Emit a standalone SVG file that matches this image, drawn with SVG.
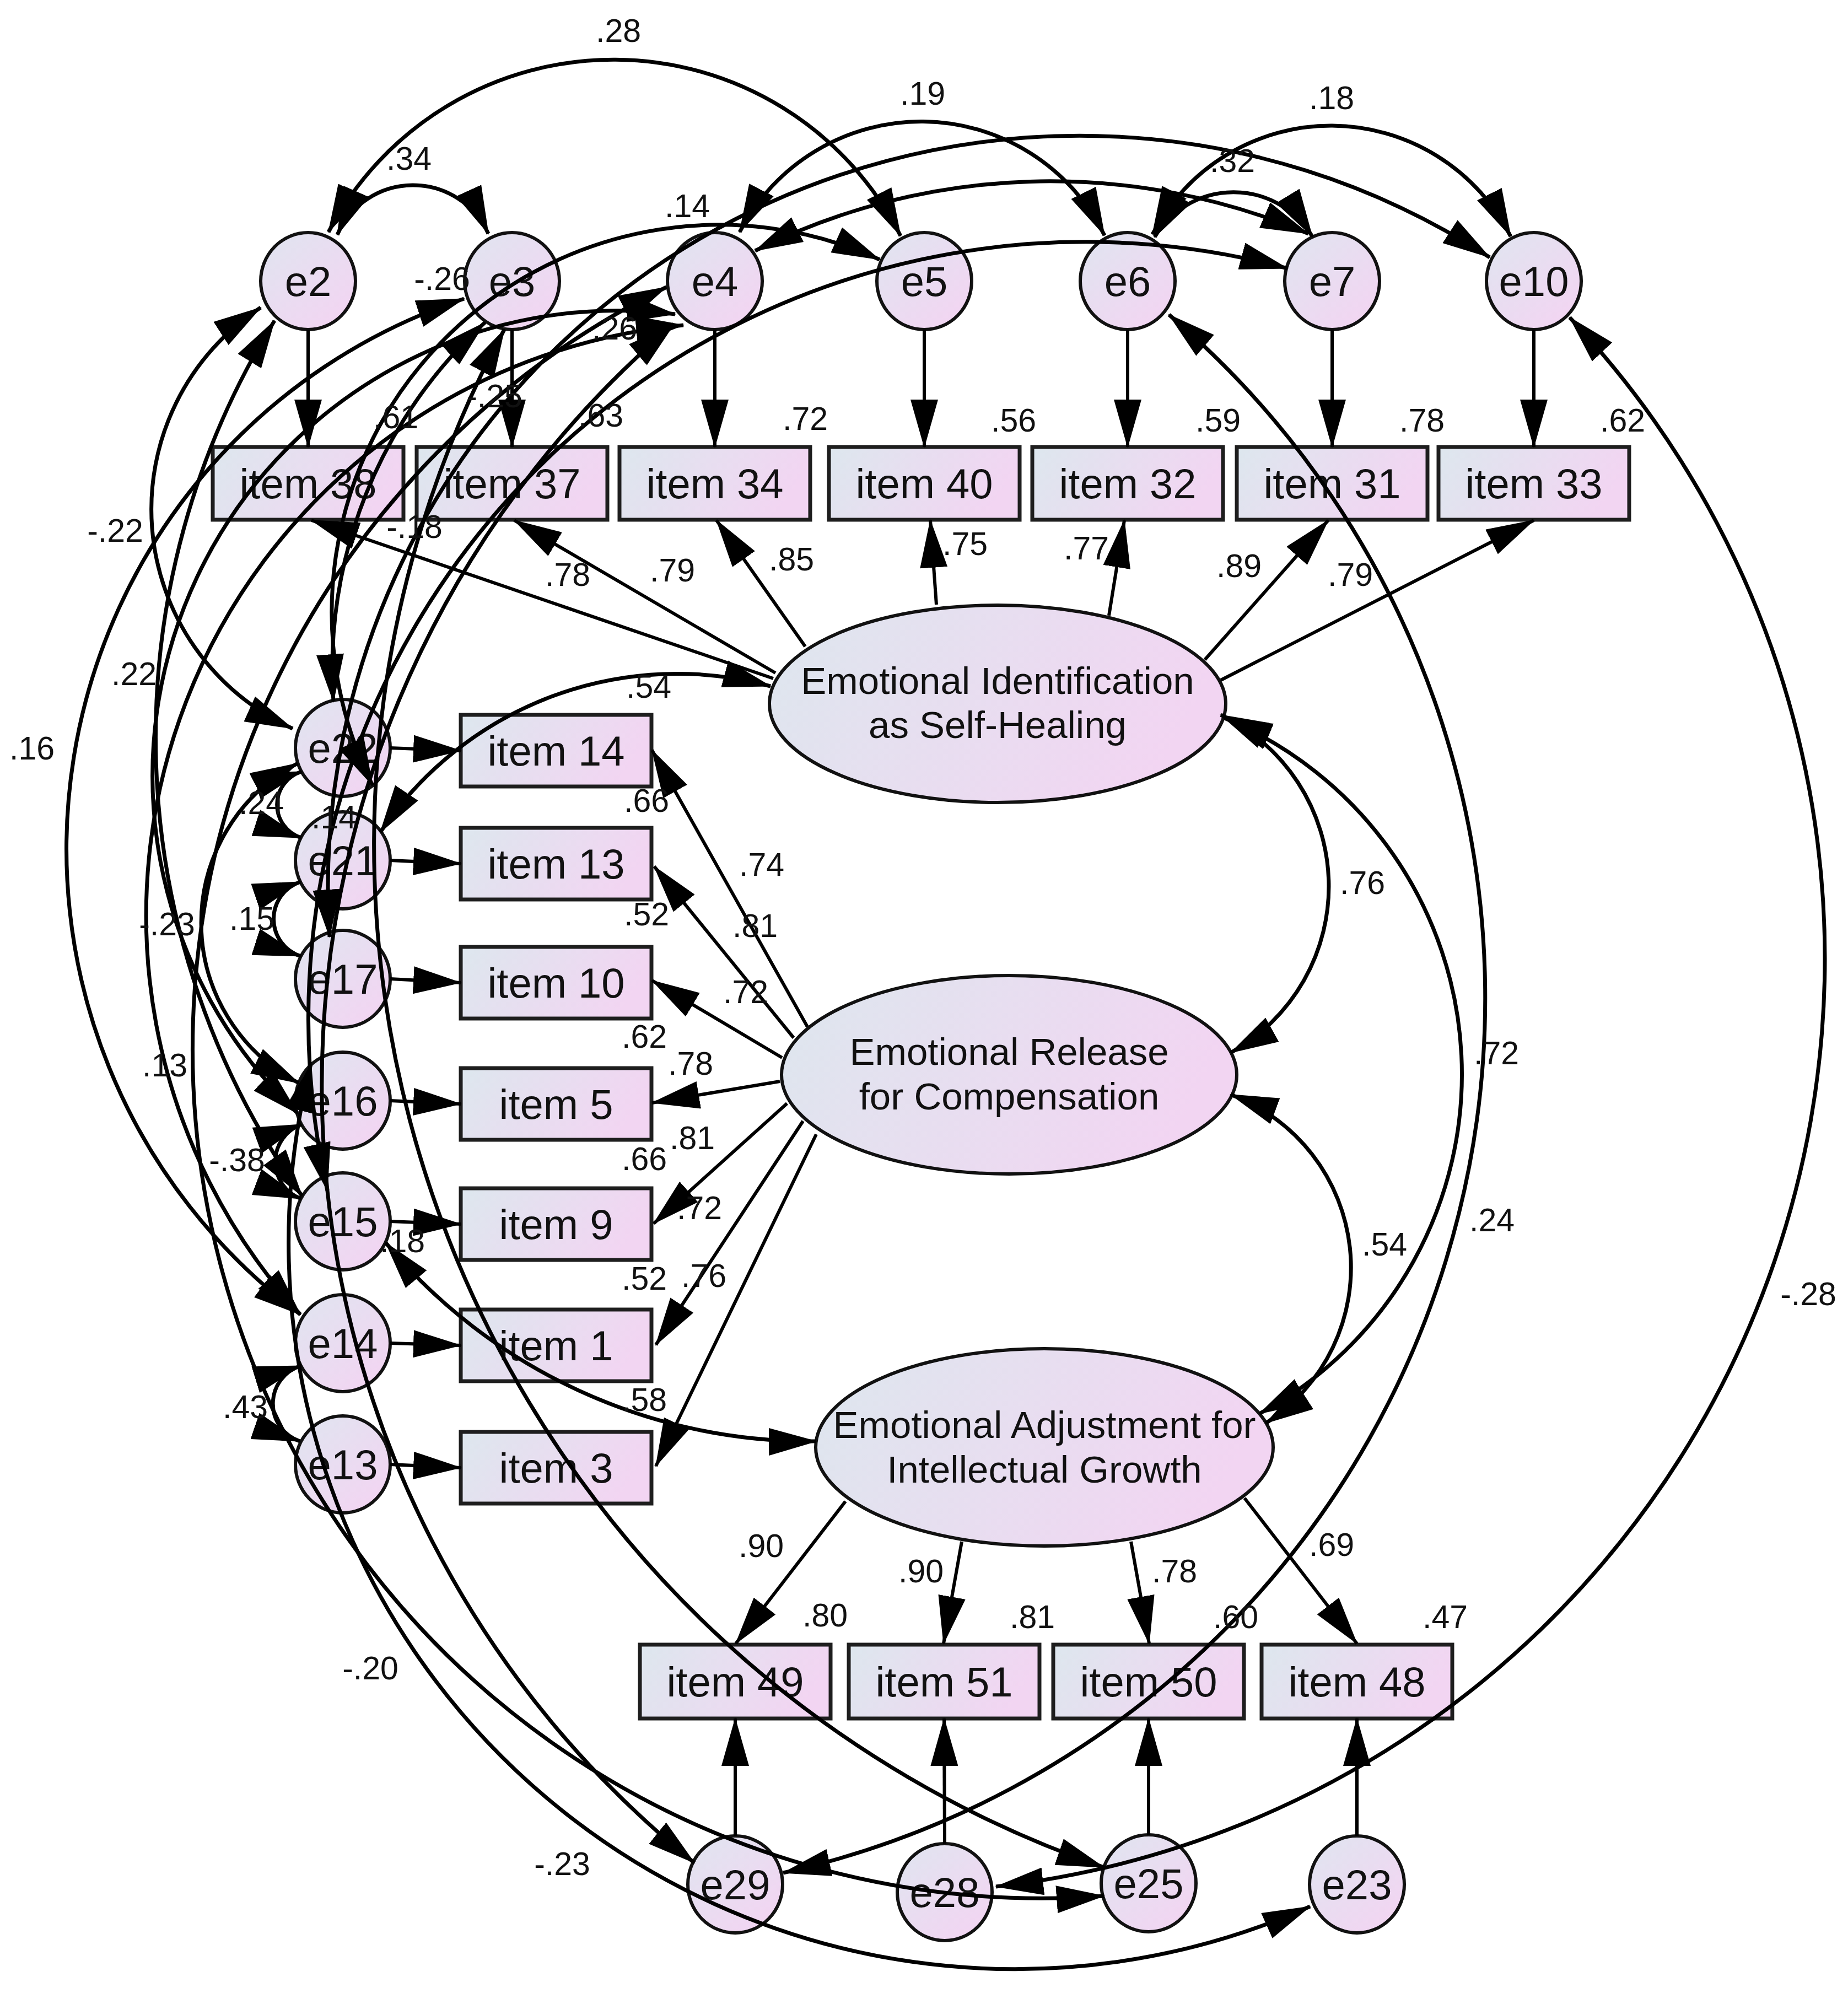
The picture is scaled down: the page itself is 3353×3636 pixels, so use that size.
<svg xmlns="http://www.w3.org/2000/svg" width="3353" height="3636" viewBox="0 0 3353 3636">
<defs>
<linearGradient id="gb" x1="0" y1="0" x2="1" y2="0.25"><stop offset="0" stop-color="#dde7ee"/><stop offset="1" stop-color="#f2d5f2"/></linearGradient>
<linearGradient id="gc" x1="0.15" y1="0.1" x2="0.85" y2="0.9"><stop offset="0" stop-color="#e2e3f0"/><stop offset="1" stop-color="#f2d5f2"/></linearGradient>
<marker id="ah" viewBox="0 0 88 50" refX="86" refY="25" markerWidth="88" markerHeight="50" markerUnits="userSpaceOnUse" orient="auto-start-reverse"><path d="M0,0 L88,25 L0,50 z" fill="#000"/></marker>
</defs>
<style>
.item{fill:url(#gb);stroke:#1e1e1e;stroke-width:7}
.lat{fill:url(#gb);stroke:#111;stroke-width:6}
.err{fill:url(#gc);stroke:#111;stroke-width:6}
text{font-family:"Liberation Sans",Arial,sans-serif;fill:#111}
.nt{font-size:76px;text-anchor:middle}
.ft{font-size:69px;text-anchor:middle}
.lb{font-size:59px;text-anchor:middle}
.reg{stroke:#000;stroke-width:6;fill:none;marker-end:url(#ah)}
.cov{stroke:#000;stroke-width:7;fill:none;marker-start:url(#ah);marker-end:url(#ah)}
</style>
<rect width="3353" height="3636" fill="#fff"/>

<g id="e2"><ellipse class="err" cx="559" cy="510" rx="86" ry="88"/><text class="nt" x="559" y="537">e2</text></g>
<g id="e3"><ellipse class="err" cx="929" cy="510" rx="86" ry="88"/><text class="nt" x="929" y="537">e3</text></g>
<g id="e4"><ellipse class="err" cx="1297" cy="510" rx="86" ry="88"/><text class="nt" x="1297" y="537">e4</text></g>
<g id="e5"><ellipse class="err" cx="1677" cy="510" rx="86" ry="88"/><text class="nt" x="1677" y="537">e5</text></g>
<g id="e6"><ellipse class="err" cx="2046" cy="510" rx="86" ry="88"/><text class="nt" x="2046" y="537">e6</text></g>
<g id="e7"><ellipse class="err" cx="2417" cy="510" rx="86" ry="88"/><text class="nt" x="2417" y="537">e7</text></g>
<g id="e10"><ellipse class="err" cx="2783" cy="510" rx="86" ry="88"/><text class="nt" x="2783" y="537">e10</text></g>

<g id="item38"><rect class="item" x="386" y="811" width="346" height="132"/><text class="nt" x="559" y="904">item 38</text></g>
<g id="item37"><rect class="item" x="756" y="811" width="346" height="132"/><text class="nt" x="929" y="904">item 37</text></g>
<g id="item34"><rect class="item" x="1124" y="811" width="346" height="132"/><text class="nt" x="1297" y="904">item 34</text></g>
<g id="item40"><rect class="item" x="1504" y="811" width="346" height="132"/><text class="nt" x="1677" y="904">item 40</text></g>
<g id="item32"><rect class="item" x="1873" y="811" width="346" height="132"/><text class="nt" x="2046" y="904">item 32</text></g>
<g id="item31"><rect class="item" x="2244" y="811" width="346" height="132"/><text class="nt" x="2417" y="904">item 31</text></g>
<g id="item33"><rect class="item" x="2610" y="811" width="346" height="132"/><text class="nt" x="2783" y="904">item 33</text></g>

<g id="e22"><ellipse class="err" cx="622" cy="1357" rx="86" ry="88"/><text class="nt" x="622" y="1384">e22</text></g>
<g id="e21"><ellipse class="err" cx="622" cy="1561" rx="86" ry="88"/><text class="nt" x="622" y="1588">e21</text></g>
<g id="e17"><ellipse class="err" cx="622" cy="1776" rx="86" ry="88"/><text class="nt" x="622" y="1803">e17</text></g>
<g id="e16"><ellipse class="err" cx="622" cy="1997" rx="86" ry="88"/><text class="nt" x="622" y="2024">e16</text></g>
<g id="e15"><ellipse class="err" cx="622" cy="2216" rx="86" ry="88"/><text class="nt" x="622" y="2243">e15</text></g>
<g id="e14"><ellipse class="err" cx="622" cy="2437" rx="86" ry="88"/><text class="nt" x="622" y="2464">e14</text></g>
<g id="e13"><ellipse class="err" cx="622" cy="2657" rx="86" ry="88"/><text class="nt" x="622" y="2684">e13</text></g>

<g id="item14"><rect class="item" x="836" y="1297" width="346" height="130"/><text class="nt" x="1009" y="1389">item 14</text></g>
<g id="item13"><rect class="item" x="836" y="1502" width="346" height="130"/><text class="nt" x="1009" y="1594">item 13</text></g>
<g id="item10"><rect class="item" x="836" y="1718" width="346" height="130"/><text class="nt" x="1009" y="1810">item 10</text></g>
<g id="item5"><rect class="item" x="836" y="1938" width="346" height="130"/><text class="nt" x="1009" y="2030">item 5</text></g>
<g id="item9"><rect class="item" x="836" y="2156" width="346" height="130"/><text class="nt" x="1009" y="2248">item 9</text></g>
<g id="item1"><rect class="item" x="836" y="2376" width="346" height="130"/><text class="nt" x="1009" y="2468">item 1</text></g>
<g id="item3"><rect class="item" x="836" y="2598" width="346" height="130"/><text class="nt" x="1009" y="2690">item 3</text></g>

<g id="F1"><ellipse class="lat" cx="1810" cy="1277" rx="414" ry="179"/><text class="ft" x="1810" y="1259">Emotional Identification</text><text class="ft" x="1810" y="1339">as Self-Healing</text></g>
<g id="F2"><ellipse class="lat" cx="1831" cy="1950" rx="413" ry="180"/><text class="ft" x="1831" y="1932">Emotional Release</text><text class="ft" x="1831" y="2013">for Compensation</text></g>
<g id="F3"><ellipse class="lat" cx="1895" cy="2626" rx="415" ry="179"/><text class="ft" x="1895" y="2609">Emotional Adjustment for</text><text class="ft" x="1895" y="2690">Intellectual Growth</text></g>

<g id="item49"><rect class="item" x="1161" y="2984" width="346" height="134"/><text class="nt" x="1334" y="3078">item 49</text></g>
<g id="item51"><rect class="item" x="1540" y="2984" width="346" height="134"/><text class="nt" x="1713" y="3078">item 51</text></g>
<g id="item50"><rect class="item" x="1911" y="2984" width="346" height="134"/><text class="nt" x="2084" y="3078">item 50</text></g>
<g id="item48"><rect class="item" x="2289" y="2984" width="346" height="134"/><text class="nt" x="2462" y="3078">item 48</text></g>

<g id="e29"><ellipse class="err" cx="1334" cy="3419" rx="86" ry="88"/><text class="nt" x="1334" y="3446">e29</text></g>
<g id="e28"><ellipse class="err" cx="1714" cy="3433" rx="86" ry="88"/><text class="nt" x="1714" y="3460">e28</text></g>
<g id="e25"><ellipse class="err" cx="2084" cy="3417" rx="86" ry="88"/><text class="nt" x="2084" y="3444">e25</text></g>
<g id="e23"><ellipse class="err" cx="2462" cy="3419" rx="86" ry="88"/><text class="nt" x="2462" y="3446">e23</text></g>

<g id="connectors">
<path class="reg" d="M559 598L559 811"/>
<path class="reg" d="M929 598L929 811"/>
<path class="reg" d="M1297 598L1297 811"/>
<path class="reg" d="M1677 598L1677 811"/>
<path class="reg" d="M2046 598L2046 811"/>
<path class="reg" d="M2417 598L2417 811"/>
<path class="reg" d="M2783 598L2783 811"/>
<path class="reg" d="M708 1357L836 1362"/>
<path class="reg" d="M708 1561L836 1567"/>
<path class="reg" d="M708 1776L836 1783"/>
<path class="reg" d="M708 1997L836 2003"/>
<path class="reg" d="M708 2216L836 2221"/>
<path class="reg" d="M708 2437L836 2441"/>
<path class="reg" d="M708 2657L836 2663"/>
<path class="reg" d="M1334 3331L1334 3118"/>
<path class="reg" d="M1714 3345L1713 3118"/>
<path class="reg" d="M2084 3329L2084 3118"/>
<path class="reg" d="M2462 3331L2462 3118"/>
<path class="reg" d="M1403 1231L565 944"/>
<path class="reg" d="M1407 1221L933 944"/>
<path class="reg" d="M1461 1173L1300 944"/>
<path class="reg" d="M1699 1097L1688 944"/>
<path class="reg" d="M2012 1117L2040 944"/>
<path class="reg" d="M2186 1197L2410 944"/>
<path class="reg" d="M2215 1234L2783 944"/>
<path class="reg" d="M1465 1863L1183 1361"/>
<path class="reg" d="M1440 1883L1187 1572"/>
<path class="reg" d="M1419 1919L1183 1779"/>
<path class="reg" d="M1415 1962L1183 2001"/>
<path class="reg" d="M1428 2002L1186 2220"/>
<path class="reg" d="M1457 2034L1190 2440"/>
<path class="reg" d="M1481 2058L1190 2660"/>
<path class="reg" d="M1534 2724L1335 2982"/>
<path class="reg" d="M1745 2797L1712 2982"/>
<path class="reg" d="M2052 2797L2085 2982"/>
<path class="reg" d="M2258 2718L2462 2982"/>

<path class="cov" d="M596 421A584 584 0 0 1 1634 428"/>
<path class="cov" d="M612 426A150 150 0 0 1 886 424"/>
<path class="cov" d="M1342 421A371 371 0 0 1 2004 427"/>
<path class="cov" d="M2091 425A365 365 0 0 1 2741 429"/>
<path class="cov" d="M2095 430A167 167 0 0 1 2381 429"/>
<path class="cov" d="M2703 467A1364 1364 0 0 0 598 1700"/>
<path class="cov" d="M2336 487A1411 1411 0 0 0 594 2160"/>
<path class="cov" d="M2374 424A1200 1200 0 0 0 1370 455"/>
<path class="cov" d="M1596 471A703 703 0 0 0 676 1425"/>
<path class="cov" d="M842 542A1052 1052 0 0 0 545 2385"/>
<path class="cov" d="M473 558A437 437 0 0 0 531 1322"/>
<path class="cov" d="M498 582A1435 1435 0 0 0 548 2170"/>
<path class="cov" d="M1225 570A844 844 0 0 0 540 2020"/>
<path class="cov" d="M1240 590A1076 1076 0 0 0 545 2385"/>
<path class="cov" d="M880 585A850 850 0 0 0 605 1273"/>
<path class="cov" d="M540 1385A327 327 0 0 0 542 1965"/>
<path class="cov" d="M547 1400A63 63 0 0 0 546 1520"/>
<path class="cov" d="M545 1600A71 71 0 0 0 546 1735"/>
<path class="cov" d="M547 2040A72 72 0 0 0 546 2175"/>
<path class="cov" d="M546 2478A72 72 0 0 0 544 2615"/>
<path class="cov" d="M690 1510A648 648 0 0 1 1398 1245"/>
<path class="cov" d="M700 2255A1004 1004 0 0 0 1481 2615"/>
<path class="cov" d="M1223 588A1811 1811 0 0 0 1260 3380"/>
<path class="cov" d="M1209 521A1541 1541 0 0 0 2003 3440"/>
<path class="cov" d="M564 1931A1318 1318 0 0 0 2377 3459"/>
<path class="cov" d="M915 598A1963 1963 0 0 0 2003 3388"/>
<path class="cov" d="M2215 1297A345 345 0 0 1 2233 1910"/>
<path class="cov" d="M2233 1986A335 335 0 0 1 2297 2582"/>
<path class="cov" d="M2222 1303A700 700 0 0 1 2285 2565"/>
<path class="cov" d="M2121 571A1626 1626 0 0 1 1421 3398"/>
<path class="cov" d="M2848 576A1694 1694 0 0 1 1807 3423"/>
</g>

<g id="labels" class="lb">
<text x="1122" y="76">.28</text>
<text x="742" y="308">.34</text>
<text x="1674" y="190">.19</text>
<text x="2416" y="198">.18</text>
<text x="2236" y="312">.32</text>
<text x="1247" y="394">.14</text>
<text x="802" y="526">-.26</text>
<text x="1115" y="616">.26</text>
<text x="897" y="739">-.25</text>
<text x="752" y="976">-.18</text>
<text x="718" y="777">.61</text>
<text x="1090" y="774">.63</text>
<text x="1461" y="780">.72</text>
<text x="1839" y="783">.56</text>
<text x="2210" y="783">.59</text>
<text x="2580" y="783">.78</text>
<text x="2944" y="783">.62</text>
<text x="1030" y="1063">.78</text>
<text x="1220" y="1055">.79</text>
<text x="1436" y="1035">.85</text>
<text x="1751" y="1007">.75</text>
<text x="1971" y="1015">.77</text>
<text x="2248" y="1047">.89</text>
<text x="2450" y="1063">.79</text>
<text x="209" y="983">-.22</text>
<text x="243" y="1243">.22</text>
<text x="58" y="1378">.16</text>
<text x="303" y="1697">-.23</text>
<text x="299" y="1953">.13</text>
<text x="430" y="2125">-.38</text>
<text x="445" y="2573">.43</text>
<text x="474" y="1477">.24</text>
<text x="606" y="1503">.14</text>
<text x="730" y="2272">.18</text>
<text x="457" y="1687">.15</text>
<text x="1177" y="1266">.54</text>
<text x="1173" y="1473">.66</text>
<text x="1173" y="1679">.52</text>
<text x="1169" y="1901">.62</text>
<text x="1169" y="2123">.66</text>
<text x="1169" y="2340">.52</text>
<text x="1169" y="2560">.58</text>
<text x="1382" y="1589">.74</text>
<text x="1370" y="1700">.81</text>
<text x="1353" y="1820">.72</text>
<text x="1253" y="1950">.78</text>
<text x="1256" y="2085">.81</text>
<text x="1269" y="2212">.72</text>
<text x="1277" y="2335">.76</text>
<text x="2472" y="1622">.76</text>
<text x="2512" y="2278">.54</text>
<text x="2715" y="1931">.72</text>
<text x="2707" y="2234">.24</text>
<text x="3281" y="2368">-.28</text>
<text x="1381" y="2825">.90</text>
<text x="1671" y="2871">.90</text>
<text x="2131" y="2871">.78</text>
<text x="2416" y="2823">.69</text>
<text x="1497" y="2951">.80</text>
<text x="1873" y="2954">.81</text>
<text x="2242" y="2954">.60</text>
<text x="2622" y="2954">.47</text>
<text x="672" y="3047">-.20</text>
<text x="1020" y="3402">-.23</text>
</g>
</svg>
